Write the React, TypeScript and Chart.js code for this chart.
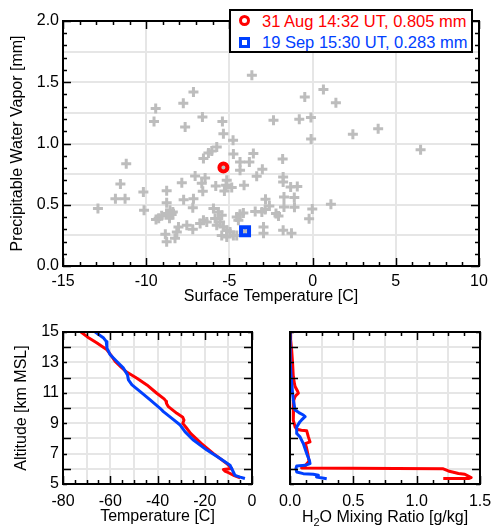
import { useEffect, useRef } from 'react';
import { Chart, registerables } from 'chart.js';
Chart.register(...registerables);

const FONT = '"Liberation Sans", Arial, Helvetica, sans-serif';
const GRID = '#e6e6e6';
const RED = '#ff0000';
const BLUE = '#0040ff';
const GRAY = '#bdbdbd';

// ---- Top panel: surface temperature vs PWV ----
const surfaceTemp = [
  -12.9, -11.2, -11.55, -11.85, -11.27, -10.17, -10.13,
  -9.43, -9.53, -9.41, -9.25, -9.07,
  -8.77, -8.77, -8.77, -8.57, -8.47, -8.6, -8.4,
  -8.85, -8.77, -8.27, -8.16, -8.06,
  -7.77, -7.66, -7.86, -7.75, -7.56,
  -7.16, -7.16, -7.2, -7.06, -7.2,
  -6.76, -6.56, -6.36,
  -6.62, -6.56, -6.26, -6.06, -5.76,
  -6.46, -6.66, -6.6, -5.82,
  -5.42, -5.36, -4.78, -4.76,
  -5.16, -5.2, -4.86, -5.3,
  -5.96, -5.66, -5.46, -5.86, -5.56, -5.76, -5.36, -5.16, -4.96, -5.46, -5.16, -4.76,
  -4.56, -4.36, -4.16, -4.46, -4.56,
  -4.36, -3.8, -4.36, -3.56, -3.36, -3.02, -4.12,
  -3.65, -2.35, -0.8, -0.1, -0.47, 0.65, 1.4, -0.09, 2.42, 3.94, 6.49,
  -1.8, -1.77, -1.77, -1.32, -0.92,
  -2.83, -1.72, -1.1, -1.72, -1.09, -0.02, -0.21, 1.1,
  -2.6, -2.85, -3.05, -3.45, -2.2, -2.05,
  -2.95, -2.95, -1.77, -1.27,
  -5.36, -4.06,
];
const pwv = [
  0.47, 0.835, 0.67, 0.55, 0.55, 0.605, 0.455,
  1.285, 1.18, 0.38, 0.39, 0.41,
  0.615, 0.517, 0.428, 0.455, 0.42, 0.39, 0.44,
  0.26, 0.198, 0.226, 0.278, 0.318,
  1.328, 1.135, 0.68, 0.54, 0.332,
  1.42, 0.55, 0.475, 0.735, 0.3,
  0.346, 0.373, 0.36,
  1.216, 0.877, 0.922, 0.939, 0.971,
  0.718, 0.675, 0.61, 0.653,
  1.18, 1.08, 1.026, 0.915,
  0.7, 0.659, 0.64, 0.612,
  0.469, 0.44, 0.414, 0.387, 0.36, 0.332, 0.318, 0.291, 0.278, 0.25, 0.237, 0.25,
  0.4, 0.422, 0.433, 0.373, 0.25,
  0.849, 0.849, 0.781, 0.918, 0.732, 0.79, 0.66,
  1.557, 1.19, 1.198, 1.213, 1.38, 1.44, 1.332, 1.036, 1.075, 1.12, 0.95,
  0.874, 0.727, 0.686, 0.645, 0.65,
  0.545, 0.563, 0.56, 0.482, 0.48, 0.466, 0.385, 0.504,
  0.49, 0.462, 0.44, 0.445, 0.428, 0.408,
  0.318, 0.268, 0.291, 0.268,
  0.805, 0.283,
];
const augPoint = { temp: -5.36, pwv: 0.805 };
const sepPoint = { temp: -4.06, pwv: 0.283 };
const legendLabels = ['31 Aug 14:32 UT, 0.805 mm', '19 Sep 15:30 UT, 0.283 mm'];

// ---- Bottom-left: temperature profiles ----
const tempAltRed = [15.0, 14.6, 14.27, 13.83, 13.5, 13.06, 12.7, 12.4, 11.96, 11.52, 10.97, 10.6, 10.45, 10.3, 10.09, 9.65, 9.39, 9.2, 8.99, 8.7, 8.33, 7.67, 7.0, 6.35, 6.02, 5.95, 5.85, 5.79, 5.55, 5.4];
const tempRed = [-72.4, -69.0, -65.6, -61.4, -59.8, -57.9, -55.5, -53.4, -48.7, -44.5, -40.3, -37.2, -36.4, -36.2, -35.4, -31.8, -29.3, -28.8, -29.3, -27.8, -26.0, -21.5, -16.3, -10.7, -8.6, -12.1, -11.5, -10.5, -7.5, -5.0];
const tempAltBlue = [15.0, 14.6, 14.38, 13.94, 13.5, 13.06, 12.62, 12.18, 11.85, 11.52, 11.08, 10.53, 9.98, 9.76, 9.32, 8.88, 8.43, 7.89, 7.23, 6.68, 6.24, 5.79, 5.57, 5.45, 5.36];
const tempBlue = [-66.4, -62.8, -61.7, -61.4, -60.0, -57.2, -54.4, -52.7, -52.3, -50.8, -47.3, -43.1, -38.9, -37.5, -33.9, -30.4, -28.3, -24.8, -19.1, -13.5, -9.3, -7.9, -7.2, -5.0, -3.0];

// ---- Bottom-right: H2O mixing ratio profiles ----
const mixAltRed = [15.0, 14.5, 13.83, 13.0, 12.07, 11.6, 11.41, 11.1, 10.97, 10.85, 10.75, 10.53, 9.87, 9.2, 8.76, 8.6, 8.54, 8.5, 8.1, 7.77, 7.66, 7.4, 7.0, 6.5, 6.2, 6.05, 6.0, 5.86, 5.69, 5.64, 5.42, 5.36, 5.36];
const mixRed = [0.0, 0.005, 0.013, 0.02, 0.026, 0.035, 0.04, 0.06, 0.066, 0.05, 0.04, 0.03, 0.026, 0.026, 0.04, 0.053, 0.09, 0.132, 0.145, 0.158, 0.12, 0.13, 0.14, 0.15, 0.12, 0.092, 1.21, 1.25, 1.33, 1.38, 1.43, 1.41, 1.21];
const mixAltBlue = [15.0, 14.0, 13.0, 12.0, 11.0, 10.53, 9.87, 9.7, 9.54, 9.43, 9.2, 9.1, 8.76, 8.32, 8.1, 7.66, 7.0, 6.56, 6.34, 6.23, 6.19, 6.01, 5.79, 5.68, 5.64, 5.57, 5.46, 5.35];
const mixBlue = [0.0, 0.0, 0.003, 0.01, 0.02, 0.026, 0.04, 0.07, 0.105, 0.119, 0.09, 0.079, 0.053, 0.053, 0.079, 0.105, 0.132, 0.153, 0.158, 0.119, 0.053, 0.047, 0.053, 0.105, 0.184, 0.224, 0.21, 0.29];

type TickCfg = { xMinor: number; xMajor: number; yMinor: number; yMajor: number };

function frameTicks(cfg: TickCfg) {
  return {
    id: 'frameTicks',
    afterDatasetsDraw(chart: any) {
      const { ctx, chartArea: a } = chart;
      const xs = chart.scales.x;
      const ys = chart.scales.y;
      const isMajor = (v: number, m: number) => Math.abs(v / m - Math.round(v / m)) < 1e-6;
      ctx.save();
      ctx.strokeStyle = '#000';
      ctx.lineWidth = 1.5;
      ctx.beginPath();
      const nx = Math.round((xs.max - xs.min) / cfg.xMinor);
      for (let i = 0; i <= nx; i++) {
        const v = xs.min + i * cfg.xMinor;
        const len = isMajor(v, cfg.xMajor) ? 8 : 4;
        const p = Math.round(xs.getPixelForValue(v)) + 0.5;
        ctx.moveTo(p, a.bottom);
        ctx.lineTo(p, a.bottom - len);
        ctx.moveTo(p, a.top);
        ctx.lineTo(p, a.top + len);
      }
      const ny = Math.round((ys.max - ys.min) / cfg.yMinor);
      for (let i = 0; i <= ny; i++) {
        const v = ys.min + i * cfg.yMinor;
        const len = isMajor(v, cfg.yMajor) ? 8 : 4;
        const p = Math.round(ys.getPixelForValue(v)) + 0.5;
        ctx.moveTo(a.left, p);
        ctx.lineTo(a.left + len, p);
        ctx.moveTo(a.right, p);
        ctx.lineTo(a.right - len, p);
      }
      ctx.stroke();
      ctx.lineWidth = 2;
      ctx.strokeRect(a.left, a.top, a.right - a.left, a.bottom - a.top);
      ctx.restore();
    },
  };
}

function fix(width?: number, height?: number) {
  return (scale: any) => {
    if (width !== undefined) scale.width = width;
    if (height !== undefined) scale.height = height;
    scale.paddingLeft = 0;
    scale.paddingRight = 0;
    scale.paddingTop = 0;
    scale.paddingBottom = 0;
  };
}

const gridOpts = { color: GRID, lineWidth: 2, drawTicks: false };
const fmtHalf = (v: number) => (Math.abs(v * 2 - Math.round(v * 2)) < 1e-6 ? v.toFixed(1) : '');

function profile(alt: number[], vals: number[], color: string) {
  return {
    data: vals.map((v, i) => ({ x: v, y: alt[i] })),
    showLine: true,
    borderColor: color,
    borderWidth: 3,
    pointRadius: 0,
    tension: 0,
    borderJoinStyle: 'round',
  };
}

const commonOpts = {
  responsive: false,
  animation: false,
  events: [],
  plugins: { legend: { display: false }, tooltip: { enabled: false } },
};

export default function App() {
  const topRef = useRef<HTMLCanvasElement>(null);
  const tRef = useRef<HTMLCanvasElement>(null);
  const qRef = useRef<HTMLCanvasElement>(null);

  useEffect(() => {
    Chart.defaults.font.family = FONT;
    Chart.defaults.font.size = 16;
    Chart.defaults.color = '#000';
    const charts: Chart[] = [];

    charts.push(
      new Chart(topRef.current as HTMLCanvasElement, {
        type: 'scatter',
        data: {
          datasets: [
            {
              data: surfaceTemp.map((x, i) => ({ x, y: pwv[i] })),
              pointStyle: 'cross',
              pointRadius: 5,
              pointBorderWidth: 3,
              pointBorderColor: GRAY,
              borderColor: GRAY,
              order: 3,
            },
            {
              data: [{ x: augPoint.temp, y: augPoint.pwv }],
              pointStyle: 'circle',
              pointRadius: 4,
              pointBorderWidth: 4,
              pointBorderColor: RED,
              pointBackgroundColor: 'rgba(0,0,0,0)',
              order: 2,
            },
            {
              data: [{ x: sepPoint.temp, y: sepPoint.pwv }],
              pointStyle: 'rect',
              pointRadius: 5.66,
              pointBorderWidth: 4,
              pointBorderColor: BLUE,
              pointBackgroundColor: 'rgba(0,0,0,0)',
              order: 1,
            },
          ],
        } as any,
        options: {
          ...commonOpts,
          layout: { padding: { left: 0, right: 13, top: 21, bottom: 0 } },
          scales: {
            x: {
              type: 'linear',
              min: -15,
              max: 10,
              ticks: { stepSize: 5, autoSkip: false, maxRotation: 0, padding: 6, callback: (v: any) => String(v) },
              grid: gridOpts,
              border: { display: false },
              title: { display: true, text: 'Surface Temperature [C]', padding: { top: 0, bottom: 4 } },
              afterFit: fix(undefined, 44),
            },
            y: {
              type: 'linear',
              min: 0,
              max: 2,
              ticks: { stepSize: 0.25, autoSkip: false, padding: 4, callback: (v: any) => fmtHalf(Number(v)) },
              grid: gridOpts,
              border: { display: false },
              title: { display: true, text: 'Precipitable Water Vapor [mm]', padding: { top: 8, bottom: 0 } },
              afterFit: fix(63),
            },
          },
        } as any,
        plugins: [frameTicks({ xMinor: 1, xMajor: 5, yMinor: 0.1, yMajor: 0.5 })],
      })
    );

    charts.push(
      new Chart(tRef.current as HTMLCanvasElement, {
        type: 'scatter',
        data: {
          datasets: [profile(tempAltBlue, tempBlue, BLUE), profile(tempAltRed, tempRed, RED)],
        } as any,
        options: {
          ...commonOpts,
          layout: { padding: { left: 0, right: 18, top: 22, bottom: 0 } },
          scales: {
            x: {
              type: 'linear',
              min: -80,
              max: 0,
              ticks: {
                stepSize: 10,
                autoSkip: false,
                maxRotation: 0,
                padding: 8,
                callback: (v: any) => (Number(v) % 20 === 0 ? String(v) : ''),
              },
              grid: gridOpts,
              border: { display: false },
              title: { display: true, text: 'Temperature [C]', padding: { top: 0, bottom: 2.5 } },
              afterFit: fix(undefined, 45),
            },
            y: {
              type: 'linear',
              min: 5,
              max: 15,
              ticks: {
                stepSize: 1,
                autoSkip: false,
                padding: 4,
                callback: (v: any) => (Math.abs(Number(v)) % 2 === 1 ? String(v) : ''),
              },
              grid: gridOpts,
              border: { display: false },
              title: { display: true, text: 'Altitude [km MSL]', padding: { top: 12, bottom: 0 } },
              afterFit: fix(63),
            },
          },
        } as any,
        plugins: [frameTicks({ xMinor: 5, xMajor: 20, yMinor: 1, yMajor: 2 })],
      })
    );

    charts.push(
      new Chart(qRef.current as HTMLCanvasElement, {
        type: 'scatter',
        data: {
          datasets: [profile(mixAltBlue, mixBlue, BLUE), profile(mixAltRed, mixRed, RED)],
        } as any,
        options: {
          ...commonOpts,
          layout: { padding: { left: 0, right: 12, top: 22, bottom: 0 } },
          scales: {
            x: {
              type: 'linear',
              min: 0,
              max: 1.5,
              ticks: { stepSize: 0.25, autoSkip: false, maxRotation: 0, padding: 8, callback: (v: any) => fmtHalf(Number(v)) },
              grid: gridOpts,
              border: { display: false },
              title: { display: false },
              afterFit: fix(undefined, 45),
            },
            y: {
              type: 'linear',
              min: 5,
              max: 15,
              ticks: { stepSize: 1, autoSkip: false, display: false },
              grid: gridOpts,
              border: { display: false },
              title: { display: false },
              afterFit: fix(20),
            },
          },
        } as any,
        plugins: [frameTicks({ xMinor: 0.125, xMajor: 0.5, yMinor: 1, yMajor: 2 })],
      })
    );

    return () => charts.forEach((c) => c.destroy());
  }, []);

  const markerBase = { position: 'absolute' as const, width: 5, height: 5, borderWidth: 3, borderStyle: 'solid', background: '#fff' };

  return (
    <div style={{ position: 'absolute', left: 0, top: 0, width: 492, height: 529, background: '#fff', overflow: 'hidden', fontFamily: FONT }}>
      <canvas ref={topRef} width={492} height={310} style={{ position: 'absolute', left: 0, top: 0 }} />
      <canvas ref={tRef} width={270} height={219} style={{ position: 'absolute', left: 0, top: 310 }} />
      <canvas ref={qRef} width={222} height={219} style={{ position: 'absolute', left: 270, top: 310 }} />
      <div style={{ position: 'absolute', left: 229, top: 9, width: 240, height: 40, border: '2px solid #000', background: '#fff' }}>
        <div style={{ ...markerBase, left: 7.5, top: 4.2, borderColor: RED, borderRadius: '50%' }} />
        <div style={{ position: 'absolute', left: 31, top: -0.3, fontSize: 16.5, lineHeight: '20px', color: RED, whiteSpace: 'nowrap' }}>{legendLabels[0]}</div>
        <div style={{ ...markerBase, left: 7.5, top: 25.8, borderColor: BLUE }} />
        <div style={{ position: 'absolute', left: 31, top: 21.4, fontSize: 16.5, lineHeight: '20px', color: BLUE, whiteSpace: 'nowrap' }}>{legendLabels[1]}</div>
      </div>
      <div style={{ position: 'absolute', left: 290, top: 509, width: 190, textAlign: 'center', fontSize: 16, lineHeight: '16px', color: '#000', whiteSpace: 'nowrap' }}>
        H<span style={{ fontSize: 11, position: 'relative', top: 4 }}>2</span>O Mixing Ratio [g/kg]
      </div>
    </div>
  );
}
